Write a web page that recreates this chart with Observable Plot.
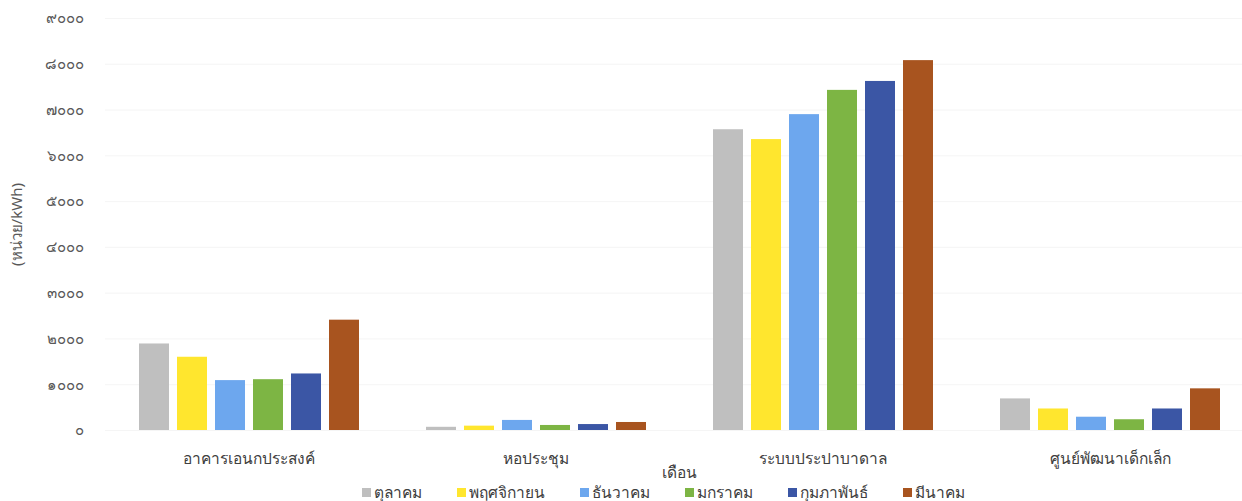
<!DOCTYPE html>
<html>
<head>
<meta charset="utf-8">
<script src="https://cdn.jsdelivr.net/npm/d3@7"></script>
<script src="https://cdn.jsdelivr.net/npm/@observablehq/plot@0.6"></script>
<style>
  html, body { margin: 0; padding: 0; background: #fff; }
  body { width: 1242px; height: 501px; overflow: hidden; font-family: "Noto Sans", "DejaVu Sans", sans-serif; }
  #chart { width: 1242px; height: 483px; overflow: hidden; }
  #legend { display: flex; align-items: center; height: 18px; padding-left: 362px; font-size: 15.5px; line-height: 18px; color: #404040; }
  .item { display: flex; align-items: center; margin-right: 35px; }
  .sw { width: 9px; height: 9px; margin-right: 3px; }
</style>
</head>
<body>
<div id="chart"></div>
<div id="legend"></div>
<script>
const categories = ["อาคารเอนกประสงค์", "หอประชุม", "ระบบประปาบาดาล", "ศูนย์พัฒนาเด็กเล็ก"];
const months = ["ตุลาคม", "พฤศจิกายน", "ธันวาคม", "มกราคม", "กุมภาพันธ์", "มีนาคม"];
const colors = ["#BFBFBF", "#FFE62E", "#6DA7EE", "#7DB544", "#3B56A5", "#A8541F"];
const octValues = [1890, 70, 6570, 690];
const novValues = [1600, 95, 6355, 470];
const decValues = [1090, 220, 6900, 290];
const janValues = [1110, 110, 7430, 235];
const febValues = [1235, 130, 7625, 470];
const marValues = [2410, 175, 8080, 910];
const yTicks = [0, 1000, 2000, 3000, 4000, 5000, 6000, 7000, 8000, 9000];

const series = [octValues, novValues, decValues, janValues, febValues, marValues];
const data = [];
categories.forEach((c, i) => {
  months.forEach((m, j) => data.push({category: c, month: m, value: series[j][i]}));
});

const thaiDigits = "๐๑๒๓๔๕๖๗๘๙";
const toThai = n => String(n).replace(/[0-9]/g, d => thaiDigits[+d]);

const chart = Plot.plot({
  width: 1253,
  height: 483,
  marginLeft: 105,
  marginRight: 0,
  marginTop: 18,
  marginBottom: 53,
  style: {fontFamily: '"Noto Sans", "DejaVu Sans", sans-serif', fontSize: "14px", color: "#404040", background: "#fff", maxWidth: "none"},
  fx: {domain: categories, padding: 0, label: "เดือน"},
  x: {domain: months, paddingInner: 0.22, paddingOuter: 0.8, axis: null},
  y: {domain: [0, 9000]},
  color: {domain: months, range: colors},
  marks: [
    Plot.gridY(yTicks, {stroke: "#ececec", strokeOpacity: 0.5}),
    Plot.barY(data, {fx: "category", x: "month", y: "value", fill: "month"}),
    Plot.axisY(yTicks, {tickSize: 0, tickPadding: 22, tickFormat: toThai, fontSize: 15, fill: "#595959", label: "(หน่วย/kWh)", labelAnchor: "center", labelOffset: 94, labelArrow: "none"}),
    Plot.axisFx({anchor: "bottom", tickSize: 0, tickPadding: 22, fontSize: 15.5, fill: "#404040", label: "เดือน", labelAnchor: "center", labelOffset: 47, labelArrow: "none"})
  ]
});
chart.style.maxWidth = "none";
chart.style.fontSize = "16px";
document.getElementById("chart").appendChild(chart);

const legend = document.getElementById("legend");
months.forEach((m, i) => {
  const item = document.createElement("div");
  item.className = "item";
  const sw = document.createElement("div");
  sw.className = "sw";
  sw.style.background = colors[i];
  const t = document.createElement("span");
  t.textContent = m;
  item.appendChild(sw);
  item.appendChild(t);
  legend.appendChild(item);
});
</script>
</body>
</html>
